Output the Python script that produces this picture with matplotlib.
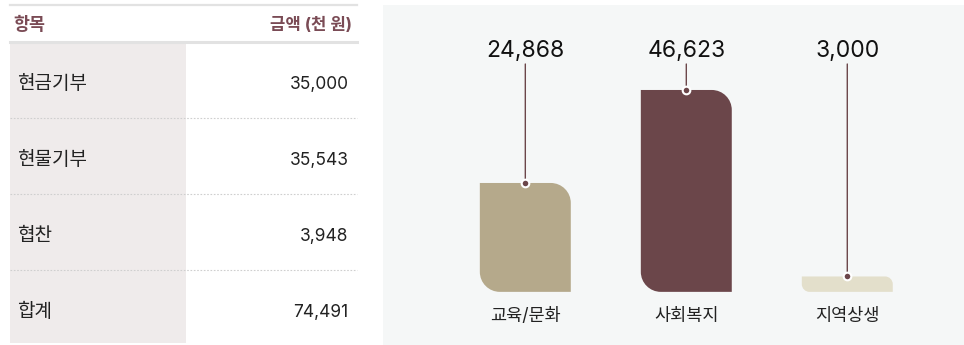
import matplotlib
matplotlib.use("Agg")
import matplotlib.pyplot as plt
import matplotlib.transforms as mtransforms
from matplotlib.path import Path
from matplotlib.patches import PathPatch, Rectangle, ConnectionPatch

plt.rcParams["font.family"] = ["Inter", "Noto Sans CJK KR", "DejaVu Sans"]

# ---- data -------------------------------------------------------------
table_header = ["항목", "금액 (천 원)"]
table_items = ["현금기부", "현물기부", "협찬", "합계"]
table_amounts = [35000, 35543, 3948, 74491]

categories = ["교육/문화", "사회복지", "지역상생"]
values = [24868, 46623, 3000]
bar_colors = ["#b5a98b", "#6b464a", "#e3dfcb"]

# ---- style ------------------------------------------------------------
W, H = 964, 345
ACCENT = "#6b464a"
HEAD = "#7a4b55"
TEXT = "#222222"
PANEL = "#f5f7f7"
SHADE = "#efebeb"
FLOOR = -600          # bars start slightly below zero so small values stay visible
RADIUS = 20           # corner radius in pixels

fig = plt.figure(figsize=(W / 100, H / 100), dpi=100)
fig.patch.set_facecolor("white")

# pixel-space canvas for the table and the chart panel
bg = fig.add_axes([0, 0, 1, 1])
bg.set_xlim(0, W)
bg.set_ylim(H, 0)
bg.axis("off")

# ---- table --------------------------------------------------------------
tx0, tx1, shade_x1 = 10, 357, 185.5
head_y, row_h = 42, 76
bg.add_patch(Rectangle((tx0, head_y), shade_x1 - tx0, row_h * len(table_items) - 3,
                       facecolor=SHADE, edgecolor="none", zorder=1))
bg.plot([tx0, tx1], [4.5, 4.5], color="#e2e2e2", lw=1.6, zorder=2)
bg.plot([tx0, tx1], [head_y, head_y], color="#e2e2e2", lw=2.2, zorder=2)
bg.text(13, 30.5, table_header[0], color=HEAD, fontsize=12.5, fontweight="bold",
        ha="left", va="baseline", zorder=3)
bg.text(351.5, 30.5, table_header[1], color=HEAD, fontsize=12, fontweight="bold",
        ha="right", va="baseline", zorder=3)

for r, (item, amt) in enumerate(zip(table_items, table_amounts)):
    base = head_y + row_h * r + 46.5
    bg.text(17, base + 0.5, item, color=TEXT, fontsize=13.7, ha="left", va="baseline",
            zorder=3)
    bg.text(348.5, base, f"{amt:,}", color=TEXT, fontsize=12.5, ha="right",
            va="baseline", zorder=3)
    if r < len(table_items) - 1:
        ysep = head_y + row_h * (r + 1)
        bg.plot([tx0, tx1], [ysep, ysep], color="#cfcfcf", lw=0.8,
                linestyle=(0, (1.5, 1.5)), zorder=2)

# ---- chart panel ------------------------------------------------------------
px0, px1, py0 = 383, W, 5
bg.add_patch(Rectangle((px0, py0), px1 - px0, H - py0, facecolor=PANEL,
                       edgecolor="none", zorder=0))

ax = fig.add_axes([px0 / W, 0, (px1 - px0) / W, (H - py0) / H])
ax.patch.set_alpha(0)
ax.axis("off")
ax.set_xlim(-0.884, 2.725)
ax.set_ylim(-13030, 66500)

# pixels per data unit
p0 = ax.transData.transform((0, 0))
p1 = ax.transData.transform((1, 1))
sx, sy = p1[0] - p0[0], p1[1] - p0[1]

blend = mtransforms.blended_transform_factory(ax.transData, bg.transData)
k = 0.5523
bar_w = 0.565


def tag_bar(x0, x1, y0, y1, r_px):
    rx, ry = r_px / sx, r_px / sy
    verts = [
        (x0, y1),
        (x1 - rx, y1),
        (x1 - rx + k * rx, y1), (x1, y1 - ry + k * ry), (x1, y1 - ry),
        (x1, y0),
        (x0 + rx, y0),
        (x0 + rx - k * rx, y0), (x0, y0 + ry - k * ry), (x0, y0 + ry),
        (x0, y1),
    ]
    codes = [Path.MOVETO, Path.LINETO,
             Path.CURVE4, Path.CURVE4, Path.CURVE4,
             Path.LINETO, Path.LINETO,
             Path.CURVE4, Path.CURVE4, Path.CURVE4,
             Path.CLOSEPOLY]
    return Path(verts, codes)


for i, (cat, v, c) in enumerate(zip(categories, values, bar_colors)):
    h_px = (v - FLOOR) * sy
    r_px = min(RADIUS, h_px / 2)
    path = tag_bar(i - bar_w / 2, i + bar_w / 2, FLOOR, v, r_px)
    ax.add_patch(PathPatch(path, facecolor=c, edgecolor="none", zorder=2))

    # leader line from the value label down to the bar top
    con = ConnectionPatch(xyA=(i, 64), coordsA=blend, xyB=(i, v), coordsB=ax.transData,
                          color=ACCENT, lw=1.0, zorder=3)
    ax.add_artist(con)
    ax.plot([i], [v], marker="o", ms=5.5, mfc=ACCENT, mec="white", mew=1.5,
            zorder=4, clip_on=False)

    ax.text(i, 57, f"{v:,}", transform=blend, ha="center", va="baseline",
            fontsize=16.5, color="#111111")
    ax.text(i, 321, cat, transform=blend, ha="center", va="baseline",
            fontsize=12.6, color="#222222")

fig.savefig("out.png", dpi=100, facecolor="white")
